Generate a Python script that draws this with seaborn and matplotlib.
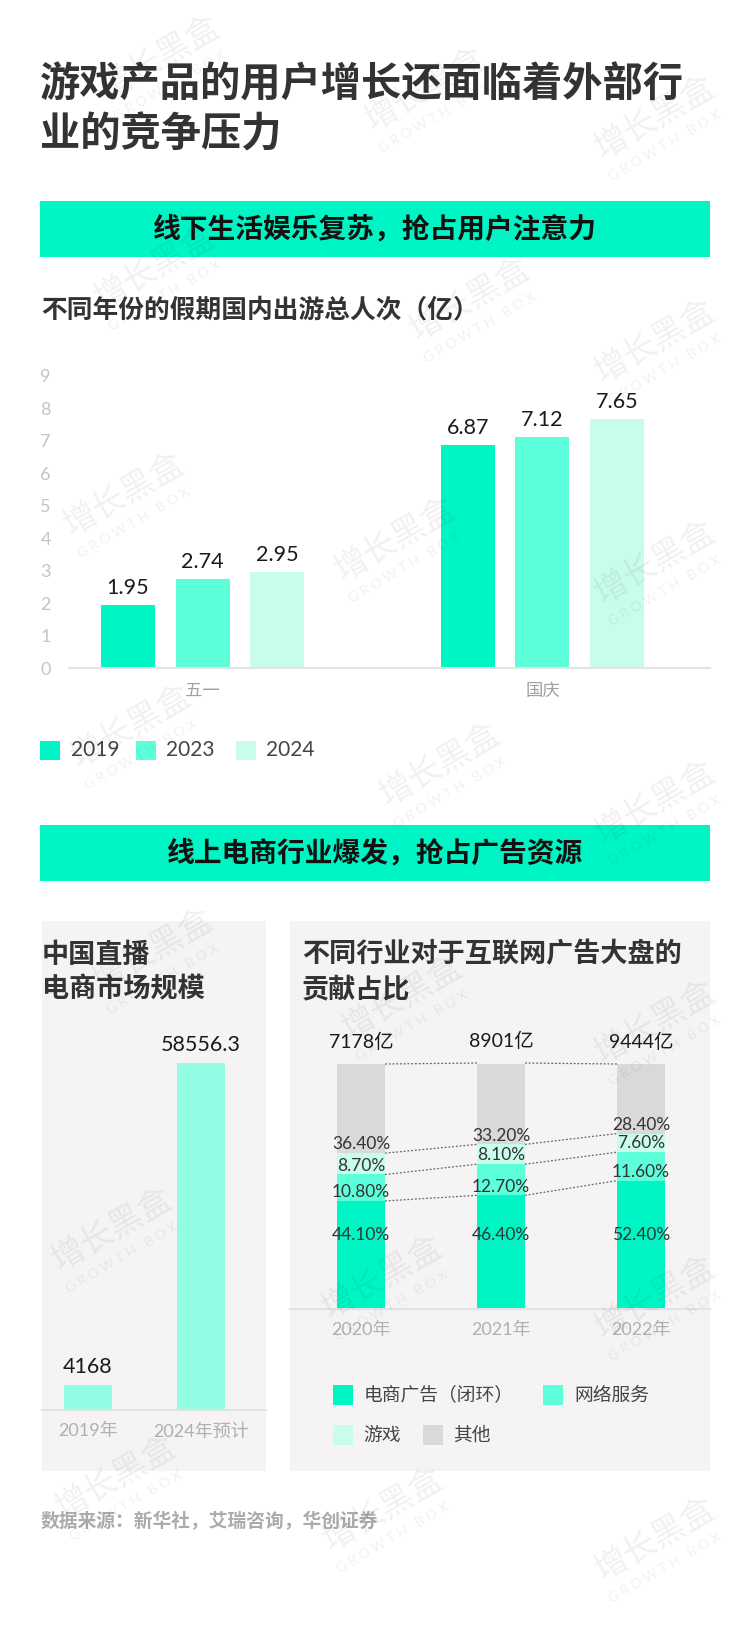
import numpy as np
import pandas as pd
import matplotlib
matplotlib.use("Agg")
import matplotlib.pyplot as plt
from matplotlib.patches import Rectangle
import seaborn as sns

# ---------------- data ----------------
holidays = ["五一", "国庆"]
years1 = ["2019", "2023", "2024"]
trips_2019 = [1.95, 6.87]
trips_2023 = [2.74, 7.12]
trips_2024 = [2.95, 7.65]
y_ticks = [0, 1, 2, 3, 4, 5, 6, 7, 8, 9]

live_years = ["2019年", "2024年预计"]
live_values = [4168, 58556.3]

ad_years = ["2020年", "2021年", "2022年"]
ad_totals = [7178, 8901, 9444]
ecom_share = [44.1, 46.4, 52.4]
net_share = [10.8, 12.7, 11.6]
game_share = [8.7, 8.1, 7.6]
other_share = [36.4, 33.2, 28.4]
ad_series = ["电商广告（闭环）", "网络服务", "游戏", "其他"]

# ---------------- style ----------------
MINT = "#00F5C4"
C2023 = "#5CFFDA"
C2024 = "#C8FCEC"
LIVE = "#94FCE4"
OTHER = "#D9D9D9"
PANEL = "#F5F3F4"
CJK = ["Noto Sans CJK SC", "DejaVu Sans"]
NUM = ["Lato", "Noto Sans CJK SC", "DejaVu Sans"]

sns.set_theme(style="white")
plt.rcParams["font.family"] = NUM

W, H = 750, 1625
fig = plt.figure(figsize=(7.5, 16.25), dpi=100)
fig.patch.set_facecolor("white")


def axbox(x0, y0, x1, y1):
    return [x0 / W, 1 - y1 / H, (x1 - x0) / W, (y1 - y0) / H]


def frect(x0, y0, x1, y1, color, z=-1):
    fig.add_artist(Rectangle((x0 / W, 1 - y1 / H), (x1 - x0) / W, (y1 - y0) / H,
                             transform=fig.transFigure, facecolor=color,
                             edgecolor="none", zorder=z))


def ftext(x, y, s, **kw):
    kw.setdefault("va", "center")
    return fig.text(x / W, 1 - y / H, s, **kw)


# ---------------- headings ----------------
ftext(40, 85, "游戏产品的用户增长还面临着外部行", fontsize=29, fontweight="bold",
      color="#333333", family=CJK)
ftext(40, 135, "业的竞争压力", fontsize=29, fontweight="bold", color="#333333", family=CJK)

frect(40, 201, 710, 257, MINT)
ftext(375, 229, "线下生活娱乐复苏，抢占用户注意力", fontsize=20, fontweight="bold",
      color="#111111", ha="center", family=CJK)
ftext(41, 310, "不同年份的假期国内出游总人次（亿）", fontsize=18.5, fontweight="bold",
      color="#333333", family=CJK)

frect(40, 825, 710, 881, MINT)
ftext(375, 853, "线上电商行业爆发，抢占广告资源", fontsize=20, fontweight="bold",
      color="#111111", ha="center", family=CJK)

# ---------------- chart 1: grouped bars ----------------
ax1 = fig.add_axes(axbox(69, 375.5, 710, 668))
ax1.set_facecolor("none")
df1 = pd.DataFrame({
    "holiday": holidays * 3,
    "year": np.repeat(years1, len(holidays)),
    "value": trips_2019 + trips_2023 + trips_2024,
})
sns.barplot(data=df1, x="holiday", y="value", hue="year", palette=[MINT, C2023, C2024],
            width=0.659, gap=0.277, saturation=1, errorbar=None, linewidth=0,
            legend=False, ax=ax1)
ax1.set_xlim(-0.393, 1.493)
ax1.set_ylim(0, 9)
for cont in ax1.containers:
    ax1.bar_label(cont, fmt="%.2f", padding=5, fontsize=15.5, color="#1A1A1A", family=NUM)
ax1.set_yticks(y_ticks)
ax1.set_xlabel("")
ax1.set_ylabel("")
ax1.tick_params(axis="y", length=0, pad=13, labelsize=13, labelcolor="#C4C4C4")
ax1.tick_params(axis="x", length=0, pad=11, labelsize=12.5, labelcolor="#A0A0A0")
for s in ["top", "right", "left"]:
    ax1.spines[s].set_visible(False)
ax1.spines["bottom"].set_color("#E3E3E3")
ax1.spines["bottom"].set_linewidth(1.5)

for (x0, tx), lab, col in zip([(40, 71), (136, 166), (236, 266)], years1, [MINT, C2023, C2024]):
    frect(x0, 741, x0 + 20, 760, col, z=2)
    ftext(tx, 750.5, lab, fontsize=15, color="#444444", family=NUM)

# ---------------- panels ----------------
frect(42, 921, 266, 1471, PANEL)
frect(290, 921, 710, 1471, PANEL)

ftext(42, 955, "中国直播", fontsize=19.5, fontweight="bold", color="#333333", family=CJK)
ftext(42, 989, "电商市场规模", fontsize=19.5, fontweight="bold", color="#333333", family=CJK)
ftext(302, 954, "不同行业对于互联网广告大盘的", fontsize=19.5, fontweight="bold",
      color="#333333", family=CJK)
ftext(302, 989, "贡献占比", fontsize=19.5, fontweight="bold", color="#333333", family=CJK)

# ---------------- chart 2: live commerce ----------------
ax2 = fig.add_axes(axbox(42, 1063, 266, 1410))
ax2.set_facecolor("none")
sns.barplot(x=live_years, y=live_values, color=LIVE, width=0.425, saturation=1,
            errorbar=None, linewidth=0, ax=ax2)
ax2.set_xlim(-0.407, 1.575)
ax2.set_ylim(0, max(live_values))
ax2.bar_label(ax2.containers[0], labels=[f"{v:g}" for v in live_values], padding=6,
              fontsize=15.5, color="#1A1A1A", family=NUM)
ax2.set_yticks([])
ax2.tick_params(axis="x", length=0, pad=9.5, labelsize=13, labelcolor="#B0B0B0")
for s in ["top", "right", "left"]:
    ax2.spines[s].set_visible(False)
ax2.spines["bottom"].set_color("#E2E2E2")
ax2.spines["bottom"].set_linewidth(1.5)

# ---------------- chart 3: stacked shares ----------------
ax3 = fig.add_axes(axbox(290, 1064, 710, 1309))
ax3.set_facecolor("none")
c1 = np.array(ecom_share)
c2 = c1 + np.array(net_share)
c3 = c2 + np.array(game_share)
c4 = c3 + np.array(other_share)
bw = 0.343
for vals, col in [(c4, OTHER), (c3, C2024), (c2, C2023), (c1, MINT)]:
    sns.barplot(x=ad_years, y=vals, color=col, width=bw, saturation=1, errorbar=None,
                linewidth=0, ax=ax3)
ax3.set_xlim(-0.507, 2.493)
ax3.set_ylim(0, 100)
for level in [c1, c2, c3, c4]:
    for i in range(len(ad_years) - 1):
        ax3.plot([i + bw / 2, i + 1 - bw / 2], [level[i], level[i + 1]],
                 ls=(0, (1.5, 1.5)), color="#666666", lw=0.9, clip_on=False, zorder=3)
for i in range(len(ad_years)):
    ax3.text(i, c4[i] + 9, f"{ad_totals[i]}亿", ha="center", va="center",
             fontsize=14, color="#1A1A1A", family=NUM)
    ax3.text(i, 30, f"{ecom_share[i]:.2f}%", ha="center", va="center",
             fontsize=12.5, color="#333333", family=NUM)
    ax3.text(i, c1[i] + 3.6, f"{net_share[i]:.2f}%", ha="center", va="center",
             fontsize=12.5, color="#333333", family=NUM)
    ax3.text(i, c2[i] + 3.6, f"{game_share[i]:.2f}%", ha="center", va="center",
             fontsize=12.5, color="#333333", family=NUM)
    ax3.text(i, c3[i] + 3.6, f"{other_share[i]:.2f}%", ha="center", va="center",
             fontsize=12.5, color="#333333", family=NUM)
ax3.set_yticks([])
ax3.tick_params(axis="x", length=0, pad=9.5, labelsize=13, labelcolor="#B0B0B0")
for s in ["top", "right", "left"]:
    ax3.spines[s].set_visible(False)
ax3.spines["bottom"].set_color("#E2E2E2")
ax3.spines["bottom"].set_linewidth(1.5)

legend_spec = [(333, 364, 1395, MINT), (543, 574, 1395, C2023),
               (333, 363, 1435, C2024), (423, 453, 1435, OTHER)]
for (sx, tx, cy, col), lab in zip(legend_spec, ad_series):
    frect(sx, cy - 10, sx + 20, cy + 10, col, z=2)
    ftext(tx, cy, lab, fontsize=13.5, color="#444444", family=CJK)

# ---------------- source ----------------
ftext(41, 1522, "数据来源：新华社，艾瑞咨询，华创证券", fontsize=13.5, fontweight="bold",
      color="#ABABAB", family=CJK)

# ---------------- watermarks ----------------
wm_pos = [(160, 58), (425, 90), (655, 118), (155, 268), (470, 300), (655, 342),
          (124, 495), (395, 540), (655, 563), (131, 727), (440, 765), (655, 803),
          (153, 951), (402, 998), (655, 1023), (112, 1230), (382, 1278), (655, 1298),
          (116, 1478), (383, 1510), (655, 1540)]
for (x, y) in wm_pos:
    ftext(x, y, "增长黑盒", fontsize=24, color="#000000", alpha=0.06, ha="center",
          rotation=30, rotation_mode="anchor", family=CJK, zorder=10)
    ftext(x + 10, y + 28, "G R O W T H   B O X", fontsize=10, color="#000000", alpha=0.06,
          ha="center", rotation=30, rotation_mode="anchor", family=NUM, zorder=10)

fig.savefig("out.png", dpi=100, facecolor="white")
